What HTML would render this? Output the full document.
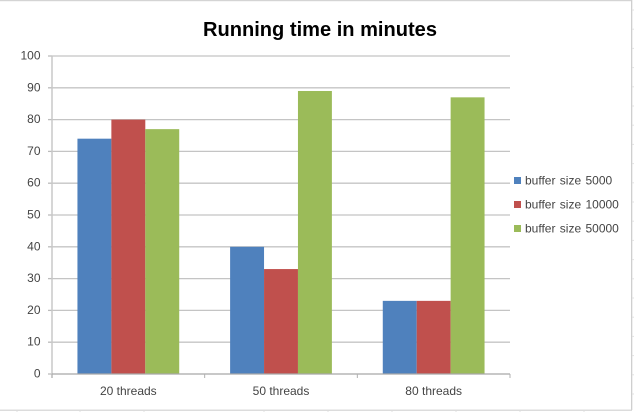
<!DOCTYPE html>
<html>
<head>
<meta charset="utf-8">
<style>
html,body{margin:0;padding:0;background:#fff;width:634px;height:412px;overflow:hidden}
svg{display:block}
text{font-family:"Liberation Sans",sans-serif;fill:#444}
</style>
</head>
<body>
<svg id="chart" width="634" height="412" viewBox="0 0 634 412" xmlns="http://www.w3.org/2000/svg">
<rect x="0" y="0" width="632" height="1.2" fill="#d4d4d4"/>
<rect x="631" y="0" width="1.3" height="410" fill="#cfcfcf"/>
<rect x="0" y="409.6" width="632" height="1.2" fill="#d4d4d4"/>
<text x="320" y="36" text-anchor="middle" font-size="20" font-weight="700" textLength="234" lengthAdjust="spacingAndGlyphs" style="fill:#000">Running time in minutes</text>
<g id="sheet"></g>
<g id="plot"></g>
<g id="legend"></g>
</svg>
<script>
const categories = ['20 threads', '50 threads', '80 threads'];
const seriesNames = ['buffer size 5000', 'buffer size 10000', 'buffer size 50000'];
const bufferSize5000 = [74, 40, 23];
const bufferSize10000 = [80, 33, 23];
const bufferSize50000 = [77, 89, 87];
const yTicks = [0, 10, 20, 30, 40, 50, 60, 70, 80, 90, 100];

const NS = 'http://www.w3.org/2000/svg';
const allSeries = [bufferSize5000, bufferSize10000, bufferSize50000];
const colors = ['#4f81bd', '#c0504d', '#9bbb59'];
const plotLeft = 52, plotRight = 510, plotTop = 56, plotBottom = 374;
const yMax = 100;
const yScale = v => plotBottom - (v / yMax) * (plotBottom - plotTop);
const bandWidth = (plotRight - plotLeft) / categories.length;
const barWidth = bandWidth / 4.5;
const xScale = (c, s) => plotLeft + bandWidth * (c + 0.5) + barWidth * (s - allSeries.length / 2);

function make(tag, attrs, parent) {
  const el = document.createElementNS(NS, tag);
  for (const k in attrs) el.setAttribute(k, attrs[k]);
  parent.appendChild(el);
  return el;
}
const plot = document.getElementById('plot');
const legend = document.getElementById('legend');
const sheet = document.getElementById('sheet');

for (let i = 0; i < 21; i++) {
  const y = 10 + i * 19.2;
  const mark = make('line', {x1: 632.3, x2: 634, y1: y, y2: y, stroke: '#e2e2e2', 'stroke-width': 1}, sheet);
  
  
}
[17, 80, 144, 264, 328, 392, 456, 520, 584].forEach(x => {
  const mark = make('line', {x1: x, x2: x, y1: 410.8, y2: 412, stroke: '#e2e2e2', 'stroke-width': 1}, sheet);
  
  
});

yTicks.forEach(t => {
  const y = yScale(t);
  if (t > 0) {
    const grid = make('line', {x1: plotLeft, x2: plotRight, y1: y, y2: y, stroke: '#c4c4c4', 'stroke-width': 1.3}, plot);
    
    
  }
  const tick = make('line', {x1: plotLeft - 4, x2: plotLeft, y1: y, y2: y, stroke: '#bcbcbc', 'stroke-width': 1.3}, plot);
  
  
  const label = make('text', {x: 40.5, y: y + 3.5, 'text-anchor': 'end', 'font-size': 12}, plot);
  
  
  label.textContent = t;
});

const yAxis = make('line', {x1: plotLeft, x2: plotLeft, y1: plotTop, y2: plotBottom + 4, stroke: '#c8c8c8', 'stroke-width': 1.5}, plot);



allSeries.forEach((values, s) => {
  values.forEach((v, c) => {
    const bar = make('rect', {x: xScale(c, s), y: yScale(v), width: barWidth, height: plotBottom - yScale(v), fill: colors[s]}, plot);
    
    
  });
});

const xAxis = make('line', {x1: plotLeft, x2: plotRight, y1: plotBottom, y2: plotBottom, stroke: '#a8a8a8', 'stroke-width': 1.2}, plot);



for (let i = 0; i <= categories.length; i++) {
  const x = plotLeft + bandWidth * i;
  const tick = make('line', {x1: x, x2: x, y1: plotBottom, y2: plotBottom + 4, stroke: '#b0b0b0', 'stroke-width': 1}, plot);
  
  
}

categories.forEach((name, c) => {
  const label = make('text', {x: plotLeft + bandWidth * (c + 0.5), y: 395, 'text-anchor': 'middle', 'font-size': 12}, plot);
  
  
  label.textContent = name;
});

seriesNames.forEach((name, s) => {
  const y = 180.5 + s * 24;
  const swatch = make('rect', {x: 514, y: y - 3.5, width: 7, height: 7, fill: colors[s]}, legend);
  
  
  const label = make('text', {x: 525, y: y + 4, 'font-size': 12, 'word-spacing': 1}, legend);
  
  
  label.textContent = name;
});
</script>
</body>
</html>
